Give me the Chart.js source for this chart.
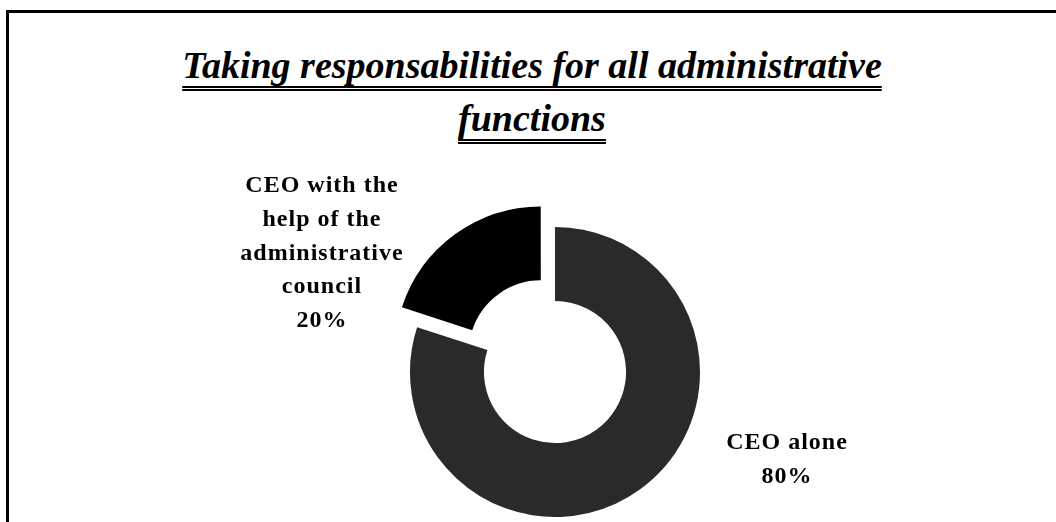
<!DOCTYPE html>
<html>
<head>
<meta charset="utf-8">
<script src="https://cdn.jsdelivr.net/npm/chart.js@4"></script>
<style>
  html, body { margin: 0; padding: 0; background: #fff; }
  body { width: 1056px; height: 522px; position: relative; overflow: hidden; }
  #frame {
    position: absolute; left: 6px; top: 10px; right: -10px; bottom: -10px;
    border-top: 3px solid #000; border-left: 3px solid #000;
  }
  #title {
    position: absolute; left: 132px; width: 800px; top: 39px; margin: 0;
    font-family: "Liberation Serif", "Times New Roman", serif;
    font-weight: bold; font-style: italic; font-size: 38px; line-height: 53px;
    text-align: center; color: #000;
    text-decoration: underline double;
    text-decoration-thickness: 2px;
    text-underline-offset: 8px;
    text-decoration-skip-ink: none;
  }
  #chart { position: absolute; left: 0; top: 0; }
</style>
</head>
<body>
<div id="frame"></div>
<h1 id="title">Taking responsabilities for all administrative<br>functions</h1>
<canvas id="chart" width="1056" height="522"></canvas>
<script>
const categories = ['CEO alone', 'CEO with the help of the administrative council'];
const shares = [80, 20];
const labelLines = [
    ['CEO alone', '80%'],
    ['CEO with the', 'help of the', 'administrative', 'council', '20%']
];
const sliceColors = ['#2a2a2a', '#000000'];
// Chart.js moves an arc by roughly offset/4, so 96 pulls the small slice out ~25px
const sliceOffsets = [0, 96];

// where each label block sits, as multiples of the outer radius from the centre
const labelPlace = [
    { dx: 1.593, dy: 0.531 },
    { dx: -1.614, dy: -1.241 }
];

const outsideLabels = {
    id: 'outsideLabels',
    afterDatasetsDraw(chart) {
        const ctx = chart.ctx;
        const meta = chart.getDatasetMeta(0);
        ctx.save();
        ctx.fillStyle = '#000';
        ctx.font = 'bold 24px "Liberation Serif", "Times New Roman", serif';
        ctx.letterSpacing = '1px';
        ctx.textAlign = 'center';
        ctx.textBaseline = 'alphabetic';
        meta.data.forEach((arc, i) => {
            const p = arc.getProps(['x', 'y', 'outerRadius'], true);
            const x = p.x + labelPlace[i].dx * p.outerRadius;
            let y = p.y + labelPlace[i].dy * p.outerRadius;
            labelLines[i].forEach(line => {
                ctx.fillText(line, x + 1, y);
                y += 33.8;
            });
        });
        ctx.restore();
    }
};

const ctx = document.getElementById('chart').getContext('2d');
new Chart(ctx, {
    type: 'doughnut',
    data: {
        labels: categories,
        datasets: [{
            data: shares,
            backgroundColor: sliceColors,
            offset: sliceOffsets,
            borderWidth: 0,
            hoverOffset: 0
        }]
    },
    options: {
        responsive: false,
        animation: false,
        radius: 145,
        cutout: '49%',
        layout: { padding: { top: 222, bottom: 0, left: 154, right: 100 } },
        plugins: {
            legend: { display: false },
            tooltip: { enabled: false },
            title: { display: false }
        }
    },
    plugins: [outsideLabels]
});
</script>
</body>
</html>
